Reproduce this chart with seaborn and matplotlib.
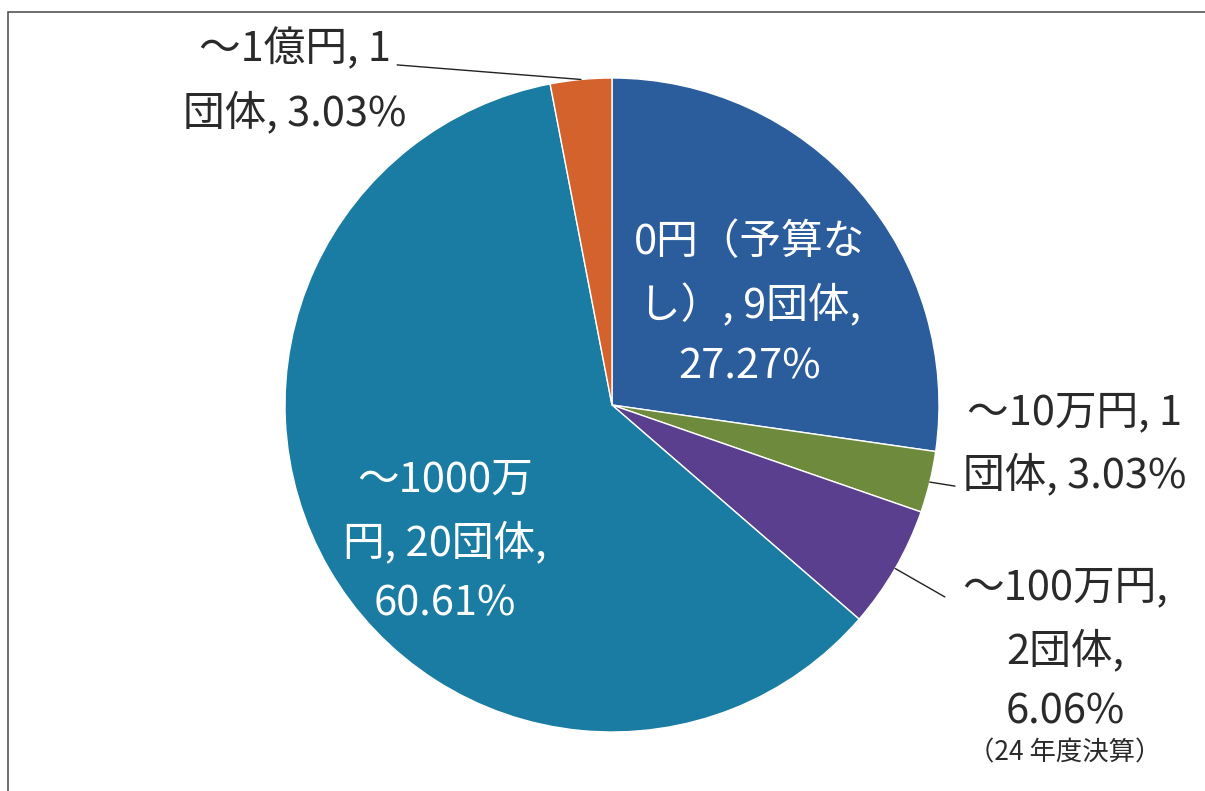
import matplotlib
matplotlib.use("Agg")
import matplotlib.pyplot as plt
import seaborn as sns
import numpy as np
from matplotlib.patches import Rectangle

# 予算規模別の団体数 (24年度決算)
categories = ["0円（予算なし）", "～10万円", "～100万円", "～1000万円", "～1億円"]
counts = [9, 1, 2, 20, 1]
colors = ["#2B5C9C", "#6E8B3D", "#5A3F8E", "#1B7CA3", "#D3622C"]
# 改行位置 (文字数)
breaks = [[6, 14], [8], [7, 12], [6, 14], [7]]
text_colors = ["white", "#2A2A2A", "#2A2A2A", "white", "#2A2A2A"]
note = "（24 年度決算）"

sns.set_style("white")
plt.rcParams["font.family"] = ["Noto Sans CJK JP", "DejaVu Sans"]

total = sum(counts)


def make_label(cat, n, brk):
    s = f"{cat}, {n}団体, {n / total * 100:.2f}%"
    parts, prev = [], 0
    for b in brk + [len(s)]:
        parts.append(s[prev:b].strip())
        prev = b
    return "\n".join(parts)


labels = [make_label(c, n, b) for c, n, b in zip(categories, counts, breaks)]

fig = plt.figure(figsize=(12.05, 7.91), dpi=100)
ax = fig.add_axes([0, 0, 1, 1])

wedges, _ = ax.pie(counts, colors=colors, startangle=90, counterclock=False,
                   radius=1.0, center=(0, 0))

R = 327
cx, cy = 612, 405
ax.set_xlim(-cx / R, (1205 - cx) / R)
ax.set_ylim((cy - 791) / R, cy / R)
ax.set_aspect("auto")
ax.axis("off")

# ラベル位置 (中心, 引き出し線の端)
label_pos = [(0.422, 0.306), (1.416, -0.119), (1.385, -0.749), (-0.511, -0.419), (-0.969, 0.991)]
leader_end = [None, (1.049, -0.248), (1.018, -0.587), None, (-0.657, 1.040)]

for w, lab, pos, le, tc in zip(wedges, labels, label_pos, leader_end, text_colors):
    ax.text(pos[0], pos[1], lab, ha="center", va="center", multialignment="center",
            fontsize=30, color=tc, linespacing=1.6)
    if le is not None:
        mid = np.deg2rad((w.theta1 + w.theta2) / 2)
        ax.plot([np.cos(mid), le[0]], [np.sin(mid), le[1]], color="#222222", lw=1)

ax.text(1.385, -1.065, note, ha="center", va="center", fontsize=19, color="#2A2A2A")

fig.add_artist(Rectangle((8 / 1205, -0.05), 1.1, (791 - 12) / 791 + 0.05,
                         transform=fig.transFigure, fill=False, edgecolor="#555555", lw=1.2))

fig.savefig("out.png", dpi=100)
